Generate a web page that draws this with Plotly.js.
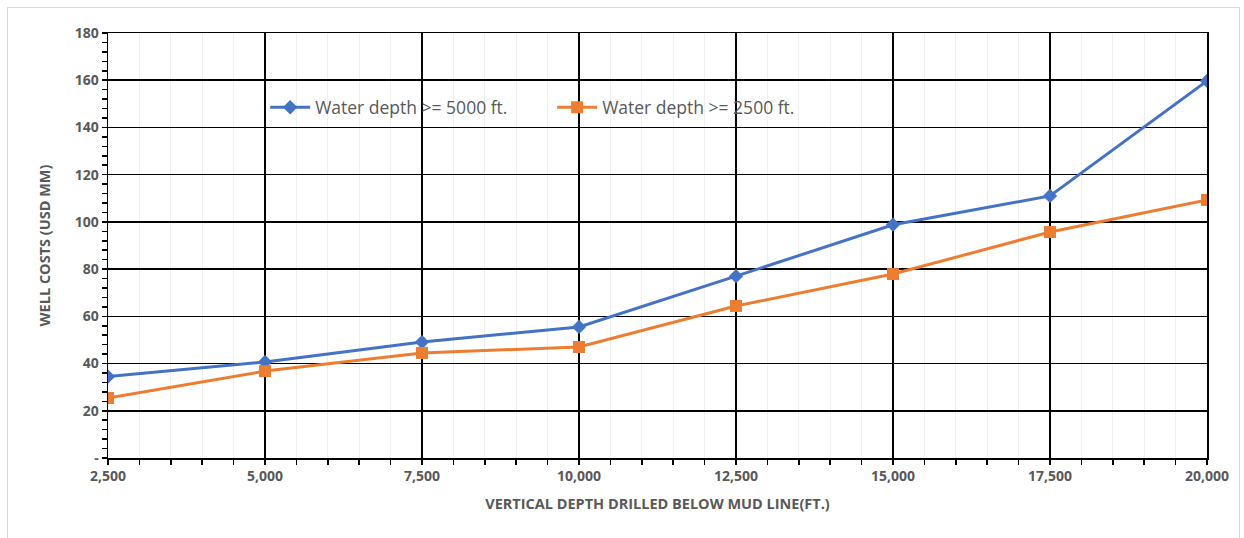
<!DOCTYPE html>
<html><head><meta charset="utf-8">
<script src="https://cdn.plot.ly/plotly-3.0.1.min.js"></script>
<style>
html,body{margin:0;padding:0;background:#fff;}
#frame{position:absolute;left:7px;top:7px;width:1233px;height:540px;border:1.5px solid #d9d9d9;box-sizing:border-box;}
#chart{position:absolute;left:0;top:0;width:1244px;height:538px;}
</style></head>
<body>
<div id="frame"></div>
<div id="chart"></div>
<script>
const depths = [2500, 5000, 7500, 10000, 12500, 15000, 17500, 20000];
const cost5000 = [34.5, 40.7, 49.1, 55.5, 77.0, 98.8, 111.0, 159.7];
const cost2500 = [25.4, 36.8, 44.5, 47.0, 64.4, 77.9, 95.7, 109.3];
const seriesNames = ['Water depth >= 5000 ft.', 'Water depth >= 2500 ft.'];
const yTickVals = [0, 20, 40, 60, 80, 100, 120, 140, 160, 180];
const yTickText = ['-', '20', '40', '60', '80', '100', '120', '140', '160', '180'];

const fontFam = 'Open Sans, Liberation Sans, sans-serif';
const traces = [
  {x: depths, y: cost5000, name: seriesNames[0], type: 'scatter', mode: 'lines+markers',
   line: {color: '#4472C4', width: 3}, marker: {symbol: 'diamond', size: 11, color: '#4472C4'}},
  {x: depths, y: cost2500, name: seriesNames[1], type: 'scatter', mode: 'lines+markers',
   line: {color: '#ED7D31', width: 3}, marker: {symbol: 'square', size: 12, color: '#ED7D31'}}
];
const layout = {
  width: 1244, height: 538,
  margin: {l: 108, r: 37, t: 33, b: 80},
  paper_bgcolor: 'rgba(0,0,0,0)', plot_bgcolor: '#fff',
  font: {family: fontFam, color: '#595959'},
  showlegend: true,
  legend: {orientation: 'h', x: 0.143, y: 0.825, xanchor: 'left', yanchor: 'middle',
    bgcolor: 'rgba(0,0,0,0)', font: {size: 17.5, color: '#595959'}, entrywidth: 232, itemwidth: 40},
  xaxis: {
    range: [2500, 20000], tickvals: depths, tickformat: ',', 
    showline: true, linecolor: '#000', linewidth: 1.5, mirror: true,
    showgrid: true, gridcolor: '#000', gridwidth: 1.5,
    ticks: 'outside', ticklen: 5, tickcolor: '#000', tickwidth: 1.5,
    tickfont: {size: 14, family: fontFam, color: '#595959', weight: 'bold'},
    minor: {dtick: 500, tick0: 2500, ticks: 'outside', ticklen: 5, tickcolor: '#000', tickwidth: 1.5, showgrid: true, gridcolor: '#eeeeee', gridwidth: 1},
    zeroline: false,
    title: {text: 'VERTICAL DEPTH DRILLED BELOW MUD LINE(FT.)', standoff: 14,
      font: {size: 14.5, family: fontFam, color: '#595959', weight: 'bold'}}
  },
  yaxis: {
    range: [0, 180], tickvals: yTickVals, ticktext: yTickText,
    showline: true, linecolor: '#000', linewidth: 1.5, mirror: true,
    showgrid: true, gridcolor: '#000', gridwidth: 1.5,
    ticks: 'outside', ticklen: 5, tickcolor: '#000', tickwidth: 1.5,
    tickfont: {size: 14, family: fontFam, color: '#595959', weight: 'bold'},
    minor: {dtick: 4, tick0: 0, ticks: 'outside', ticklen: 5, tickcolor: '#000', tickwidth: 1.5, showgrid: false},
    zeroline: false,
    title: {text: 'WELL COSTS (USD MM)', standoff: 20,
      font: {size: 14.5, family: fontFam, color: '#595959', weight: 'bold'}}
  }
};
Plotly.newPlot('chart', traces, layout, {displayModeBar: false, staticPlot: true});
</script>
</body></html>
